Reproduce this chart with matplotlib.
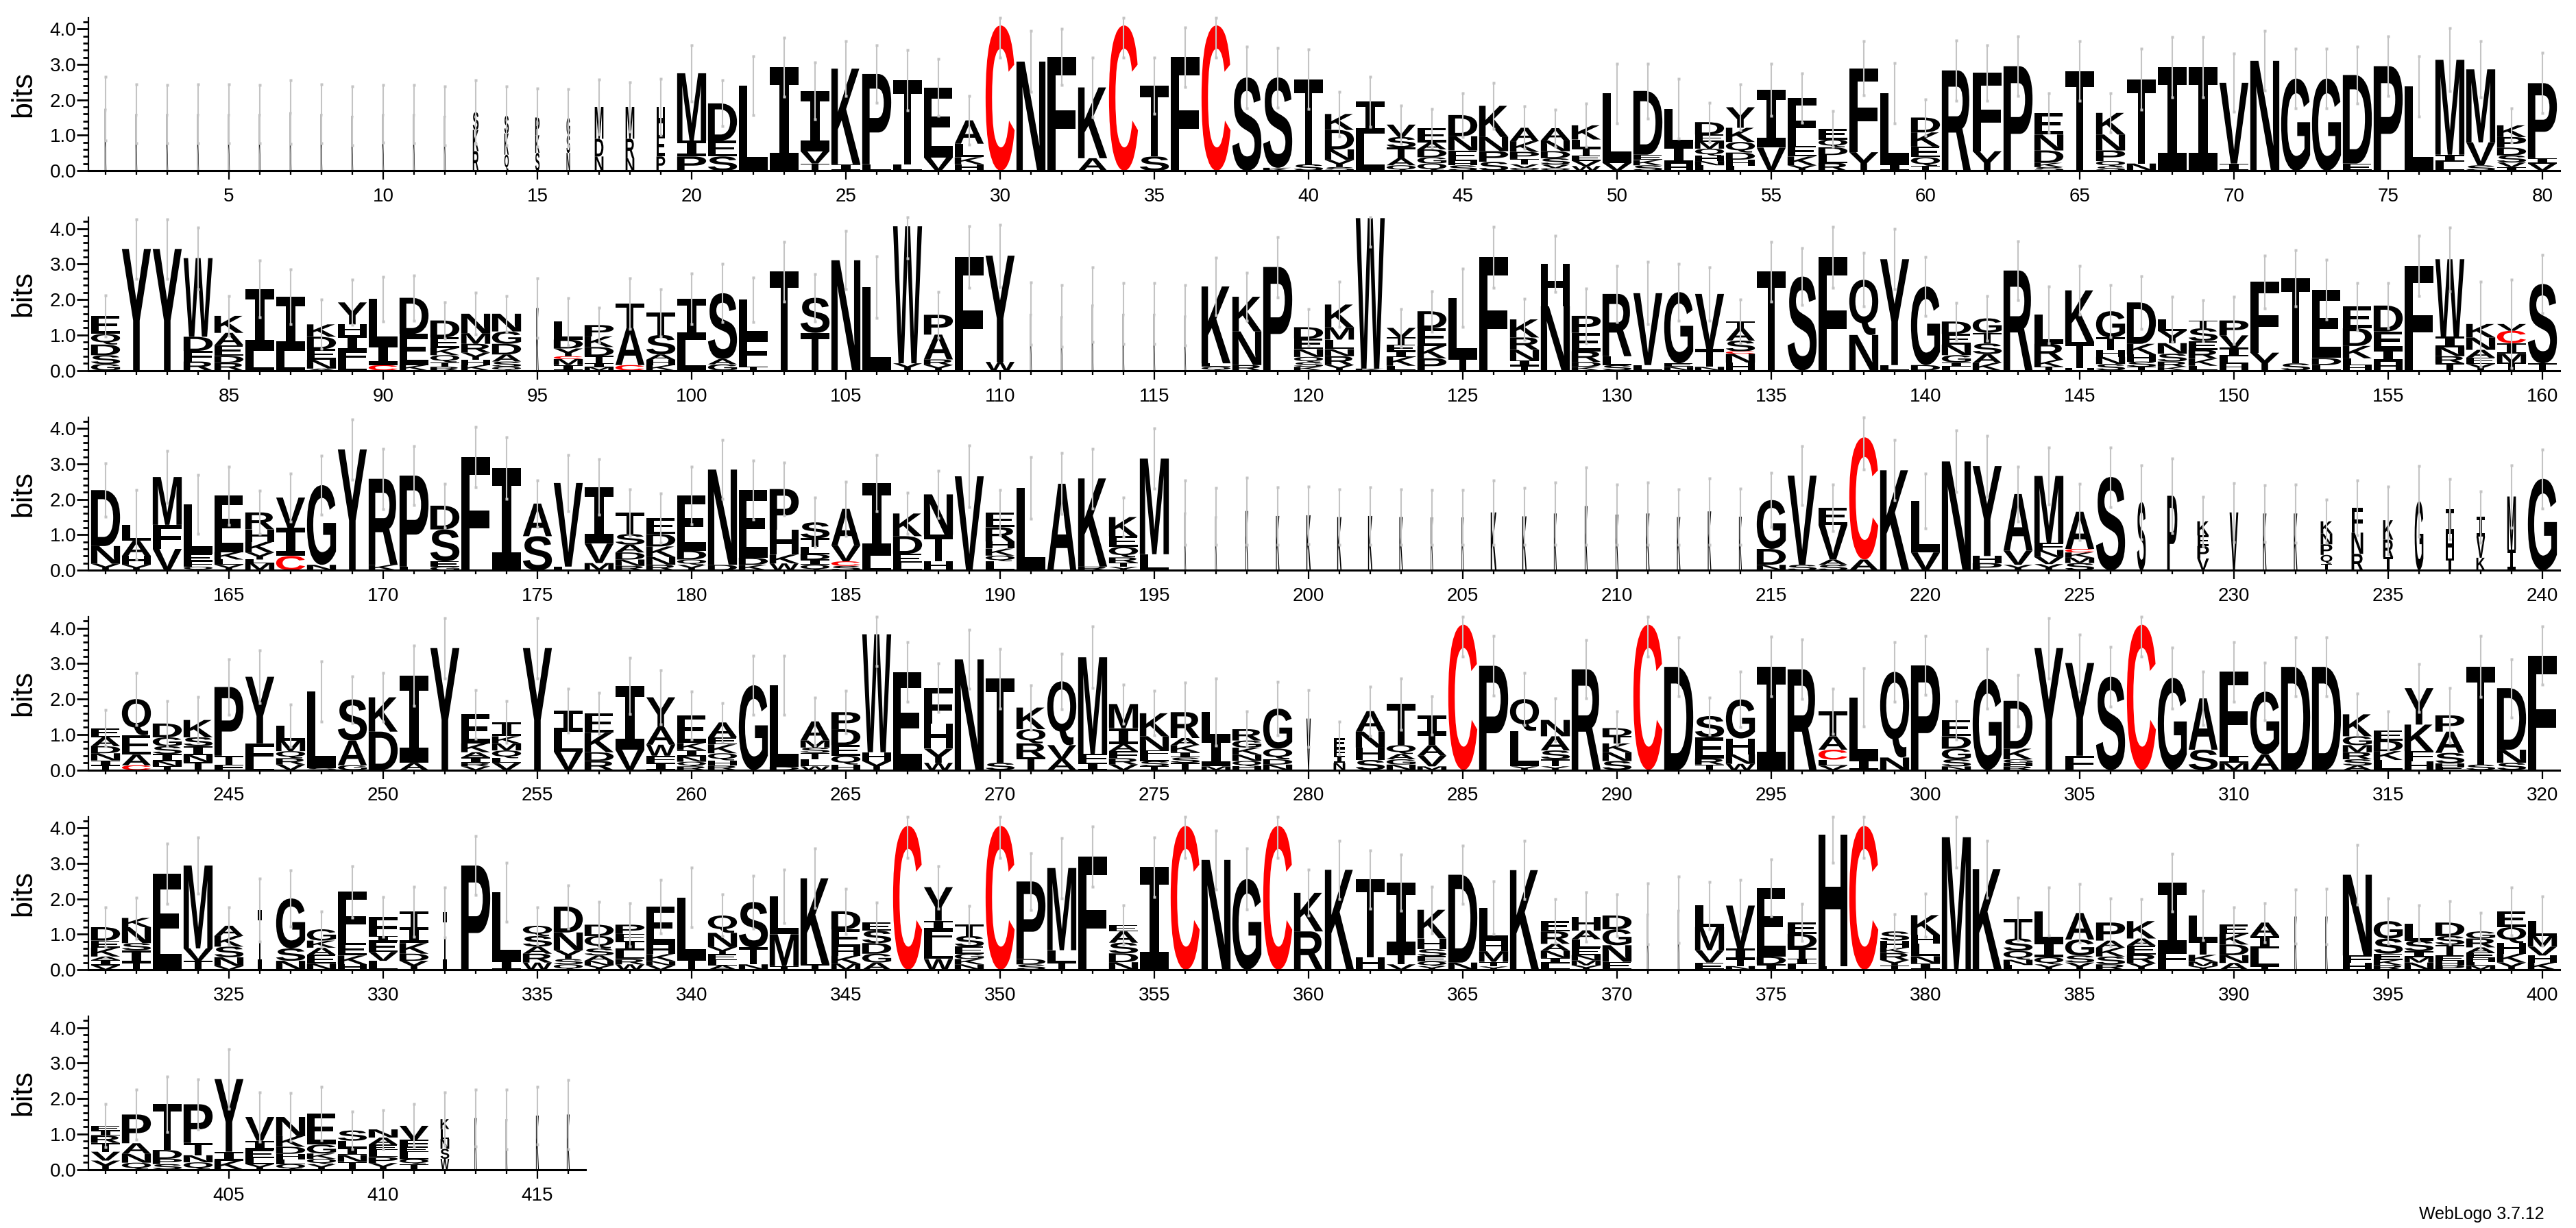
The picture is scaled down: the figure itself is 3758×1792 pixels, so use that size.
import matplotlib
matplotlib.use("Agg")
import matplotlib.pyplot as plt
from matplotlib.font_manager import FontProperties
from matplotlib.patches import PathPatch
from matplotlib.textpath import TextPath
from matplotlib.transforms import Affine2D

# ─────────────────────────────────────────────────────────────
# Data: one string per column, letters top -> bottom with height in bits
# ─────────────────────────────────────────────────────────────

STACKS_1 = [
    "K1.75", "K1.6", "K1.6", "K1.6", "K1.6", "K1.6", "K1.65", "K1.6", "K1.55", "K1.6",
    "K1.6", "K1.55", "S.5 K.6 R.55", "S.5 K.6 Q.45", "P.5 K.5 S.5", "G.5 S.5 N.5",
    "M.9 D.5 N.4", "M.9 R.55 N.35", "H.8 E.6 P.4", "M1.9 I.45 P.4",
    "D1.05 E.45 S.4", "L2.4", "I2.92", "I1.7 V.35 T.2", "K2.7 I.18", "P2.55 L.18",
    "T2.37 L.18", "E1.98 V.37", "A.66 L.38 K.2 H.18", "C4.1",
    "N3.08", "F3.21", "K2.0 A.35", "C4.1", "T2.0 S.4", "F3.21", "C4.1", "S2.63",
    "S2.55 K.08", "T2.4 S.18",
    "K.45 D.55 N.3 Y.2 S.1", "I.9 L1.05", "V.35 S.3 T.3 A.2 Q.15", "E.4 A.2 D.22 G.18 Q.2",
    "D.6 N.4 E.3 H.12 S.15", "K.88 N.4 P.3 S.25", "A.38 K.3 P.2 T.15 V.1 Q.08",
    "A.35 N.3 D.2 S.18 V.1 Q.07", "K.4 L.25 T.2 E.15 V.15 W.13", "L1.96 V.22",
    "D1.8 E.15 K.15 S.15", "L1.05 I.5 H.2", "D.35 E.2 M.2 Q.2 H.15 N.12 L.15",
    "Y.58 K.4 Q.3 D.2 H.18 L.13", "I1.63 V.65", "F1.35 E.3 K.25 Y.15",
    "E.3 Q.22 D.22 L.22 R.22", "F2.37 Y.52", "L2.0 I.18", "D.42 K.4 E.3 Q.25 T.13",
    "R2.83", "F2.21 Y.55", "P2.95", "E.61 N.45 D.35 K.12 S.1", "T2.81",
    "K.61 N.45 P.3 Q.15 S.12", "T2.38 N.2", "I2.92", "I2.92", "V2.28 I.2",
    "N3.1", "G2.6", "G2.6", "D2.5 E.2", "P2.95", "L2.38", "M2.68 I.2 L.25",
    "M2.06 V.65 S.15", "K.33 P.3 D.22 S.2 V.13 I.1", "P2.12 I.15 V.2",
]
ERR_1 = [
    .9, .83, .82, .83, .83, .82, .9, .83, .83, .81, .82, .84, .9, .83, .83, .8, .78, .7, .8, .8,
    .65, .83, .83, .8, .77, .82, .85, .8, .68, .9, .86, .8, .85, .9, .8, .84, .9, .87, .84, .84,
    .63, .71, .54, .55, .62, .64, .6, .52, .61, .84, .77, .85, .55, .65, .74, .7, .5, .77, .85, .52,
    .85, .78, .84, .55, .84, .55, .86, .85, .85, .82, .84, .84, .84, .8, .84, .85, .89, .79, .48, .85,
]

STACKS_2 = [
    "E.51 Q.3 D.3 S.25 G.18", "Y3.43", "Y3.43", "W2.22 D.4 F.3 R.25", "K.48 A.35 E.3 D.2 R.21",
    "I1.75 L.55", "I1.53 L.55", "K.35 D.35 E.3 N.25 A.05", "Y.62 H.3 I.45 F.3 L.25",
    "L1.27 I.6 C.15",
    "D1.02 E.88 K.15", "D.48 E.3 K.2 Q.2 T.13 R.1", "N.55 M.3 R.25 Y.2 H.15 K.15",
    "N.5 G.35 D.3 A.2 S.15 Q.1", "K1.76", "L.51 D.25 Y.22 C.08 M.17 I.15",
    "P.32 K.3 D.25 T.2 I.12 M.09", "T.7 A1.04 C.15", "T.63 S.55 A.15 H.15 K.15", "I1.15 L.87",
    "S1.86 A.15 G.17", "L1.05 F.85 T.1", "T2.79", "S.99 T1.06", "N3.11", "L2.35",
    "W3.87 Y.2", "P.56 A.7 R.16 Y.15", "F3.2", "Y3.0 W.24",
    "K1.6", "K1.53", "K1.86", "K1.6", "K1.6", "K1.55", "K2.17 L.1 Q.1", "K.98 N.95 R.15",
    "P2.92", "D.32 E.3 N.22 Q.15 S.13 K.1",
    "K.64 M.35 L.27 N.2 R.25 Y.15", "W4.25 K.05", "V.27 T.2 E.2 I.15 K.25 L.13",
    "D.48 E.5 K.35 P.34", "L1.7 T.35", "F3.2", "K.51 R.35 N.3 I.15 T.13", "H1.2 N1.81",
    "P.48 E.52 R.3 D.14 K.1", "R1.76 L.25 S.15",
    "V2.03 L.15", "G2.01 E.1 N.1", "V1.56 T.5 N.1", "T.19 A.35 S.3 C.07 N.25 H.22", "T2.79",
    "S2.65", "F3.2", "Q1.56 N1.0", "Y2.99 L.15", "G2.22 D.15",
    "D.35 E.3 N.3 G.2 I.13 L.1", "G.41 T.3 S.3 A.25 K.21", "R2.82", "L.82 R.45 K.2 T.1",
    "K1.46 T.74 H.06", "G.74 T.35 H.2 N.2 S.18", "D1.17 K.3 H.2 S.15 T.1",
    "L.32 Y.35 N.3 S.22 R.15 K.1", "T.22 S.36 E.25 R.25 K.2 L.13", "P.42 V.35 I.25 L.2 H.19",
    "F2.0 Y.5", "T2.4 S.2", "E1.93 D.2 L.15", "E.61 D.5 K.35 L.2 H.14", "D.73 E.5 I.35 H.25",
    "F2.95", "W2.19 I.3 N.25 R.2 T.2", "K.38 N.35 A.22 E.18 Y.18", "V.19 C.35 I.3 M.25 T.22",
    "S2.24 T.2",
]
ERR_2 = [
    .58, .84, .84, .87, .56, .8, .77, .7, .64, .63, .64, .51, .59, .5, .84, .67, .5, .71, .67, .72,
    .82, .63, .84, .66, .82, .87, .9, .65, .87, .88, .88, .87, 1.05, .86, .86, .85, .82, .68, .85, .51,
    .64, .8, .53, .57, .83, .86, .58, .8, .77, .79, .88, .8, .76, .62, .84, .81, .86, .75, .85, .83,
    .52, .63, .83, .8, .69, .73, .74, .64, .58, .67, .75, .8, .84, .67, .64, .85, .9, 1.2, 1.25, .83,
]

STACKS_3 = [
    "D1.58 N.5 Y.18", "L.45 A.43 H.25 Y.15", "M1.35 F.68 V.6", "L1.41 E.2 F.15 Q.1",
    "E1.59 K.21 L.15 Y.15", "R.48 H.35 K.3 Y.2 L.1 M.2", "V.85 I.8 C.4", "G2.25 N.15", "Y3.41",
    "R2.43 K.15",
    "P2.57 L.1", "D.67 S.9 E.15 G.1", "F3.2", "I2.88", "A.92 S.96", "V2.36 L.1", "I1.6 V.55 M.2",
    "T.61 S.3 A.22 D.2 N.18 R.12", "E.45 D.35 K.3 N.22 R.15", "E1.56 D.25 Q.15 Y.15",
    "N2.69 D.15", "E1.92 D.2 K.15", "P1.15 H.7 K.25 W.19", "S.45 T.25 L.2 D.15 I.15 Q.15",
    "A1.03 V.45 C.13 S.12", "I2.06 L.4", "K.64 D.5 E.25 L.21", "N1.14 T.75 H.25", "V2.65",
    "E.42 R.4 H.2 K.2 Q.16 L.25",
    "L2.33", "A2.44", "K2.49 R.1", "K.54 E.3 Q.3 R.15 T.12 Y.09", "M2.7 L.45", "K1.63", "K1.52",
    "K1.67", "K1.53", "K1.55",
    "K1.5", "K1.53", "K1.5", "K1.49", "K1.49", "K1.63", "K1.52", "K1.6", "K1.81", "K1.57",
    "K1.6", "K1.5", "K1.66", "K1.51", "G1.38 D.45 N.15", "V2.52 S.15", "E.48 V.98 A.15 S.15",
    "C3.45 A.3", "K2.82", "L1.45 V.5",
    "N3.07", "Y2.54 H.2 P.2", "A1.6 V.4 Y.15", "M1.89 F.2 N.2 V.2 Y.17", "A1.05 C.1 K.15 M.15 S.2",
    "S2.63", "S1.92", "P2.1", "K.4 E.3 P.35 V.33", "V1.63",
    "K1.6", "K1.6", "K.35 N.3 P.3 Q.25 T.18", "F.7 N.6 R.46", "K.55 R.5 T.36", "G1.95",
    "I.7 H.7 T.33", "I.55 V.6 K.35", "M1.5 I.58", "G2.58",
]
ERR_3 = [
    .75, .98, .74, .83, .82, .61, .67, .84, .85, .85, .84, .62, .85, .87, .66, .8, .78, .66, .69, .81,
    .83, .83, .74, .7, .77, .79, .58, .66, .87, .64, .87, .86, .84, .55, .85, .91, .8, .95, .82, .82,
    .78, .82, .78, .77, .77, .91, .8, .88, 1.09, .85, .88, .78, .94, .79, .76, .84, .66, .9, .85, .77,
    .87, .86, .77, .81, .79, .84, 1.04, 1.06, .7, .83, .8, .82, .61, .78, .96, 1.0, .85, .73, .88, .83,
]

STACKS_4 = [
    "E.26 A.25 D.2 N.2 I.15 T.12", "Q1.02 E.55 A.3 C.13", "D.39 G.25 S.22 I.2 N.15 T.1",
    "K.49 S.25 I.25 N.2 T.22", "P1.94 T.25 F.15", "Y1.88 F.6 L.15", "L.42 M.3 Q.2 R.18 V.15",
    "L2.16 S.05", "S1.16 A.7 G.13", "K.97 D1.08",
    "I2.46 A.2", "Y3.44", "E.82 K.25 A.15 I.15 R.1 V.1", "I.4 K.2 M.2 Q.22 L.13 V.2", "Y3.44",
    "I.6 L.56 V.52", "E.55 K.55 D.25 R.25", "I1.8 V.57", "Y.84 A.5 W.31 F.2 I.2",
    "E.78 K.2 I.18 N.15 Q.13 R.1",
    "A.42 E.2 K.25 Q.2 H.15 R.12", "G2.39", "L2.3 D.09", "A.54 M.2 S.15 T.18 L.2 W.1",
    "P.48 D.45 E.3 Q.25 H.15", "W3.33 H.25 Y.25", "E2.76", "F1.02 H.7 Y.4 W.2", "N3.12",
    "T2.38 S.2",
    "K.61 Q.4 R.4 T.35", "Q1.8 V.4 A.3", "M2.73 F.25 I.2", "M.68 I.45 A.2 F.2 R.18 V.15",
    "K.65 N.4 F.15 L.15 S.15 T.1", "R.73 A.2 K.2 I.15 S.15 T.2", "L.73 I.8 M.1",
    "R.32 G.2 K.2 N.18 Q.15 H.1", "G1.13 Q.3 D.15 N.15", "V1.45",
    "E.3 F.2 I.2 N.2", "A.58 N.45 H.35 S.28", "T1.16 Q.25 A.15 G.15 N.15", "I.54 T.3 A.3 V.3 M.1",
    "C4.1", "P2.94", "Q.9 L1.0 Y.1", "N.46 A.4 S.25 T.2 Y.1", "R2.84", "D.23 T.2 K.25 N.25 S.25",
    "C4.1", "D2.91", "S.6 E.6 R.17 T.15", "G1.1 H.45 N.27 W.17", "I2.92", "R2.84",
    "T.71 A.38 C.28 L.17 V.12", "L1.75 I.3", "Q2.42 N.35", "P2.95",
    "E.46 D.35 G.3 S.2 N.1", "G2.57", "D1.35 K.3 G.1 H.1 R.1", "Y3.44", "Y2.62 F.4", "S2.63",
    "C4.1", "G2.6", "A1.45 S.57", "F2.37 I.2 M.2",
    "G1.77 A.44", "D2.91", "D2.91", "K.62 G.25 M.2 R.2 S.18 A.12", "E.29 D.3 K.25 L.28",
    "Y1.03 K.75 F.28 H.25", "P.46 A.6 S.3 H.1 E.08", "T2.77 S.15", "D1.74 N.37 S.2", "F3.23",
]
ERR_4 = [
    .52, .74, .64, .65, .79, .74, .6, .85, .66, .69, .86, .85, .68, .59, .85, .62, .58, .79, .76, .67,
    .55, .84, .84, .68, .6, .9, .84, .68, .83, .84, .63, .79, .87, .55, .63, .84, .95, .51, .76, .81,
    .47, .7, .72, .54, .9, .84, .73, .61, .82, .48, .9, .83, .53, .78, .84, .84, .64, .83, .84, .84,
    .54, .84, .73, .85, .8, .84, .9, .86, .75, .84, .81, .83, .83, .58, .54, .68, .78, .86, .82, .83,
]

STACKS_5 = [
    "D.38 E.2 K.25 A.1 I.15 V.12", "K.26 N.45 S.2 I.35 T.2", "E2.71", "M2.34 V.35 T.25",
    "A.29 K.3 S.3 N.25 V.1", "I1.69", "G1.41 S.35 N.25", "G.32 K.2 A.2 E.25 N.17",
    "F1.45 E.35 K.25 H.15", "F.54 I.15 E.3 V.25 L.25",
    "T.44 I.45 K.3 D.2 Y.25", "I1.62", "P2.94", "L1.93 I.25", "Q.29 S.3 A.2 R.25 W.2",
    "D.73 N.5 Y.25 S.15 Q.15", "D.32 Q.35 S.2 A.15 N.13 Y.12", "P.26 F.2 I.26 L.25 R.15 W.15",
    "E1.09 H.25 K.2 N.12 V.12", "L1.74 T.3",
    "Q.49 N.4 Y.2 E.17 L.15 A.12", "S1.28 T.48 N.15", "L1.07 M.9 T.1", "K2.43 T.15",
    "D.51 E.5 H.25 K.22 M.17", "E.23 S.35 D.3 G.25 A.2", "C4.06", "Y.95 I.25 F.35 L.48 W.3",
    "T.33 S.3 E.2 G.15 K.15 N.15", "C4.06",
    "P2.19 D.15 S.15", "M2.32 L.35 T.2", "F3.19", "E.18 A.32 S.3 D.25 N.21", "I2.9", "C4.06",
    "N3.1", "G2.56", "C4.06", "K1.09 R1.08",
    "K2.82", "T2.2 H.35", "I2.01 T.3 V.15", "K.81 H.3 S.2 E.15 Q.13 Y.1", "D2.48 N.2",
    "L.93 H.3 M.3 T.13 Y.09", "K2.81", "E.29 R.35 A.2 N.2 I.15 L.18",
    "H.38 A.25 L.25 E.2 N.15 M.14 Y.12", "D.39 G.45 N.47 E.22",
    "K1.58", "K1.69", "L.61 M.65 V.35 E.2", "V1.21 I.3 T.2 N.1", "E1.94 D.22 I.15",
    "E.32 D.4 T.3 I.16 L.15", "H3.72 L.1", "C4.06", "S.26 H.2 K.15 R.2 Y.15 T.12",
    "K.56 H.25 L.35 N.2 I.18",
    "M3.74", "K2.84", "T.55 S.35 Q.25 N.15 L.13", "L.85 I.45 Q.2 Y.15", "A.75 G.45 S.2 Y.2",
    "P.51 A.2 K.25 S.22 R.15", "K.49 A.2 E.25 R.25 Y.18", "I1.96 F.35 L.15",
    "L.71 T.4 K.2 M.12 Y.1", "E.26 K.3 D.3 N.22 A.19",
    "A.38 I.35 L.5 T.1", "K1.5", "K1.5", "N2.28 F.2 H.2", "G.49 S.43 E.17 K.15 R.13",
    "L.48 S.3 I.17 M.15 N.2", "D.38 S.25 T.3 E.15 H.13 P.12", "G.2 R.25 A.15 E.15 H.12 L.1 M.11",
    "E.45 Q.45 H.3 K.25 Y.2", "L.42 M.3 V.25 H.2 K.2",
]
ERR_5 = [
    .56, .58, .85, .8, .52, .89, .8, .51, .72, .56, .71, .71, .83, .83, .53, .61, .65, .61, .76, .84,
    .59, .74, .75, .84, .64, .56, .9, .6, .52, .9, .8, .85, .85, .55, .84, .9, .83, .86, .9, .65,
    .82, .82, .8, .66, .82, .74, .82, .62, .69, .59, .86, .94, .66, .72, .81, .52, .8, .9, .48, .61,
    .85, .8, .6, .68, .82, .68, .62, .81, .69, .5, .55, .76, .79, .85, .64, .51, .61, .52, .68, .7,
]

STACKS_6 = [
    "E.13 I.15 R.2 T.25 V.25 Y.25", "P.81 A.3 N.25 Q.19", "T1.29 D.25 P.15 S.15",
    "P1.09 T.35 N.2 Q.2", "Y2.05 I.25 K.25", "V.67 I.25 E.25 L.16 Y.15",
    "N.54 K.3 D.2 H.15 L.14 Q.15", "E.88 G.25 K.15 Q.15 Y.15", "S.29 L.2 I.2 N.2 T.21",
    "N.23 A.2 E.15 L.2 P.17 Y.18", "V.39 F.2 E.15 L.2 Q.14 T.15", "K.28 L.28 N.28 S.28 W.3",
    "K1.45", "K1.42", "K1.52", "K1.55",
]
ERR_6 = [.61, .71, .79, .71, .84, .7, .68, .76, .53, .55, .61, .76, .81, .84, .82, .97]

# columns drawn narrower than full width (mostly-gap columns) and their width fraction
NARROW_POS = [1, 2, 3, 4, 5, 6, 7, 8, 9, 10, 11, 12, 13, 14, 15, 16, 17, 18, 19,
              95, 111, 112, 113, 114, 115, 116,
              196, 197, 198, 199, 200, 201, 202, 203, 204, 205, 206, 207, 208, 209, 210,
              211, 212, 213, 214, 227, 228, 229, 230, 231, 232, 233, 234, 235, 236, 237,
              238, 239, 280, 281, 326, 332, 371, 372, 392, 393, 412, 413, 414, 415, 416]
NARROW_W = [.06, .06, .06, .06, .06, .06, .06, .06, .06, .06, .06, .06, .2, .15, .15, .12,
            .3, .3, .3,
            .08, .06, .06, .06, .06, .06, .06,
            .06, .06, .1, .12, .15, .15, .15, .12, .08, .08, .2, .15, .1, .1, .1,
            .12, .12, .12, .1, .3, .35, .4, .3, .12, .12, .4, .4, .35, .3, .3,
            .3, .3, .15, .4, .15, .15, .06, .06, .08, .08, .3, .08, .06, .1, .1]

ROWS = [(1, STACKS_1, ERR_1), (81, STACKS_2, ERR_2), (161, STACKS_3, ERR_3),
        (241, STACKS_4, ERR_4), (321, STACKS_5, ERR_5), (401, STACKS_6, ERR_6)]

# ─────────────────────────────────────────────────────────────
# Layout (pixels of the 3758 x 1792 output)
# ─────────────────────────────────────────────────────────────

W_PX, H_PX = 3758, 1792
COL_PX = 45.0          # width of one column
X1_PX = 154.0          # centre of the first column of each row
BASE0_PX = 249.0       # baseline of the first row, from the top
ROW_STEP_PX = 291.5
PX_PER_BIT = 51.67
YMAX = 4.32
STACK_W = 0.94

LETTER_FONT = FontProperties(family="Liberation Sans", weight="bold")
SERIF_I_FONT = FontProperties(family="DejaVu Sans Mono", weight="bold")
TICK_FONT = "Liberation Sans"

_glyphs = {}


def _glyph(ch):
    if ch not in _glyphs:
        prop = SERIF_I_FONT if ch == "I" else LETTER_FONT
        path = TextPath((0, 0), ch, size=1, prop=prop)
        _glyphs[ch] = (path, path.get_extents())
    return _glyphs[ch]


def _parse(spec):
    """'M1.9 I.45 P.4' -> [('M', 1.9), ('I', 0.45), ('P', 0.4)] (top -> bottom)."""
    return [(tok[0], float(tok[1:])) for tok in spec.split()]


def draw_letter(ax, ch, xc, y0, w, h):
    path, ext = _glyph(ch)
    tr = (Affine2D().translate(-ext.x0, -ext.y0)
          .scale(w / ext.width, h / ext.height)
          .translate(xc - w / 2, y0))
    color = "#ff0000" if ch == "C" else "black"
    ax.add_patch(PathPatch(tr.transform_path(path), facecolor=color,
                           edgecolor="none", lw=0, zorder=2))


def draw_row(fig, row_idx, first, stacks, errs):
    n = len(stacks)
    left_px = X1_PX - 0.55 * COL_PX
    width_px = (n + 0.1) * COL_PX
    base_px = BASE0_PX + row_idx * ROW_STEP_PX
    height_px = YMAX * PX_PER_BIT
    ax = fig.add_axes([left_px / W_PX, (H_PX - base_px) / H_PX,
                       width_px / W_PX, height_px / H_PX])
    ax.set_xlim(first - 0.55, first + n - 1 + 0.55)
    ax.set_ylim(0, YMAX)

    narrow = dict(zip(NARROW_POS, NARROW_W))
    xs, lo, hi = [], [], []
    for i, (spec, e) in enumerate(zip(stacks, errs)):
        pos = first + i
        w = STACK_W * narrow.get(pos, 1.0)
        letters = _parse(spec)
        y = 0.0
        for ch, h in reversed(letters):
            draw_letter(ax, ch, pos, y, w, h)
            y += h
        xs.append(pos)
        lo.append(max(y - e, 0.0))
        hi.append(min(y + e, YMAX))

    ax.vlines(xs, lo, hi, color="#c4c4c4", lw=1.5, zorder=3)
    ax.plot(xs + xs, lo + hi, "s", ms=3.2, color="#c4c4c4", mec="none", zorder=3,
            clip_on=False)

    majors = [p for p in range(first, first + n) if p % 5 == 0]
    ax.set_xticks(majors)
    ax.set_xticks(range(first, first + n), minor=True)
    ax.set_xticklabels([str(p) for p in majors], fontsize=20, family=TICK_FONT)
    ax.set_yticks([0, 1, 2, 3, 4])
    ax.set_yticks([k / 5 for k in range(1, 22)], minor=True)
    ax.set_yticklabels([f"{v:.1f}" for v in range(5)], fontsize=20, family=TICK_FONT)
    ax.tick_params(axis="x", which="major", length=9, width=1.6, pad=9)
    ax.tick_params(axis="x", which="minor", length=4.5, width=1.6)
    ax.tick_params(axis="y", which="major", length=12, width=2.0, pad=1)
    ax.tick_params(axis="y", which="minor", length=6, width=2.0)

    for side in ("top", "right"):
        ax.spines[side].set_visible(False)
    ax.spines["left"].set_linewidth(1.6)
    ax.spines["bottom"].set_linewidth(2.2)
    ax.patch.set_alpha(0)

    fig.text(34 / W_PX, (H_PX - base_px + height_px / 2) / H_PX, "bits",
             rotation=90, ha="center", va="center", fontsize=31, family=TICK_FONT)
    return ax


fig = plt.figure(figsize=(W_PX / 100, H_PX / 100), dpi=100)
for r, (first, stacks, errs) in enumerate(ROWS):
    draw_row(fig, r, first, stacks, errs)

fig.text(3712 / W_PX, (H_PX - 1772) / H_PX, "WebLogo 3.7.12", ha="right", va="center",
         fontsize=18, family=TICK_FONT)

fig.savefig("out.png", dpi=100)
